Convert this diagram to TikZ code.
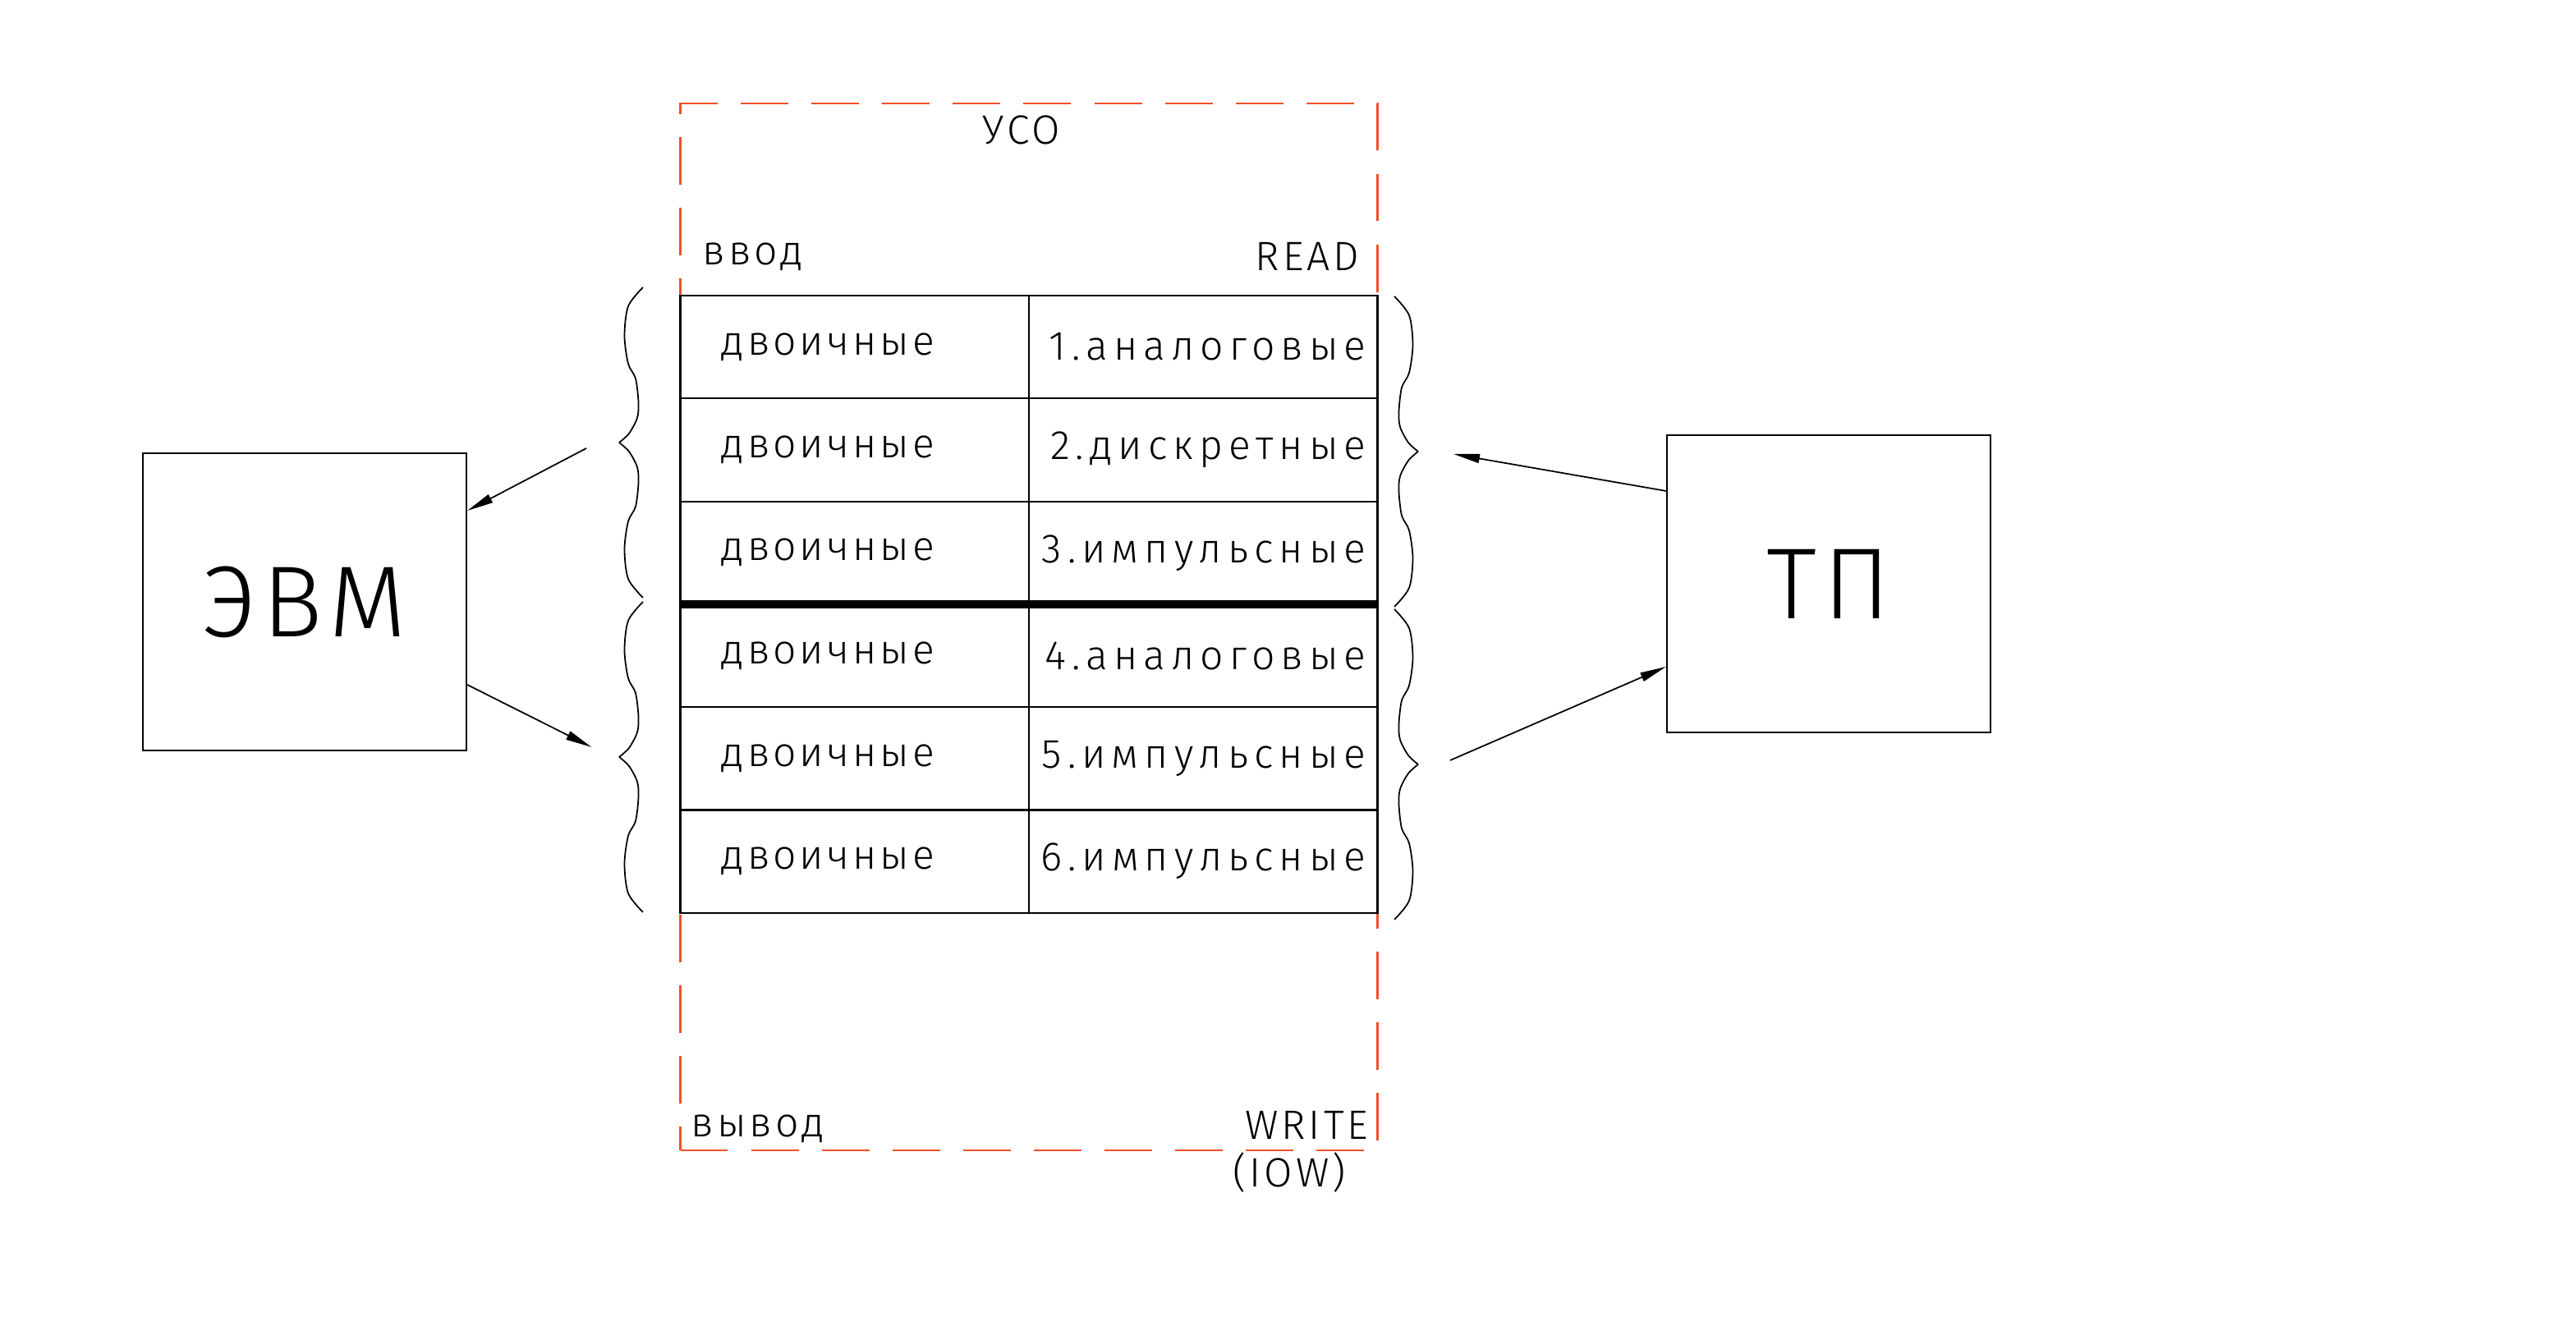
\documentclass[tikz,border=0pt]{standalone}
\usepackage{fontspec}
\setmainfont{Liberation Sans}
\newfontfamily\cadfont[LetterSpace=8]{Fira Sans Light}
\newfontfamily\cadwide[LetterSpace=14]{Fira Sans Light}
\newfontfamily\blockfont[LetterSpace=6]{Fira Sans Light}
\usetikzlibrary{arrows.meta,positioning}
\definecolor{usoframe}{RGB}{240,80,40}

\begin{document}
\begin{tikzpicture}[
  >={Triangle[length=3.2mm,width=1.1mm]},
  unit/.style  = {
    draw, line width=0.6pt,
    minimum width=\unitw, minimum height=\unith,
    font=\blockfont\fontsize{35}{40}\selectfont
  },
  cell/.style  = {
    draw, line width=0.6pt, outer sep=0pt,
    minimum height=\rowh,
    font=\cadfont\fontsize{14.2}{17}\selectfont
  },
  lcell/.style = {cell, text width=3.245cm, inner xsep=0.5cm, align=left},
  rcell/.style = {cell, text width=3.965cm, inner xsep=0.14cm, align=right,
    font=\cadwide\fontsize{14.2}{17}\selectfont},
  usobox/.style = {
    draw=usoframe, line width=0.6pt,
    dash pattern=on 16.5pt off 8pt,
    minimum width=8.49cm, minimum height=12.75cm
  },
  label/.style = {font=\cadfont\fontsize{14.2}{17}\selectfont, inner sep=0pt},
  cadbrace/.pic = {
    \draw[line width=0.5pt] plot[smooth, tension=0.5] coordinates
      {(0,0) (0.12,0.11) (0.22,0.30) (0.235,0.49) (0.20,0.78) (0.11,0.96) (0.065,1.30) (0.11,1.66) (0.29,1.89)};
    \draw[line width=0.5pt, yscale=-1] plot[smooth, tension=0.5] coordinates
      {(0,0) (0.12,0.11) (0.22,0.30) (0.235,0.49) (0.20,0.78) (0.11,0.96) (0.065,1.30) (0.11,1.66) (0.29,1.89)};
  }
]

% ---- constants ----
\def\unitw{3.94cm}   % width of the two outer blocks
\def\unith{3.62cm}   % height of the two outer blocks
\def\rowh{1.253cm}   % one table row

\useasboundingbox (0,0) rectangle (31.37,16.32);

% ---- frame of the interface unit ----
\node[usobox] (uso) at (12.53,8.685) {};
\node[label] (uso title) at (12.44,14.74) {УСО};
\node[label, anchor=base west] (in title)  at (8.55,13.09) {ввод};
\node[label, anchor=base east] (rd title)  at (16.56,13.02) {READ};
\node[label, anchor=base west] (out title) at (8.41,2.47) {вывод};
\node[label, anchor=base east] (wr title)  at (16.67,2.44) {WRITE};
\node[label, anchor=base] (iow title) at (15.70,1.86) {(IOW)};

% ---- table ----
\node[lcell, anchor=north west] (l1) at (8.285,12.72) {двоичные};
\node[lcell, below=0pt of l1] (l2) {двоичные};
\node[lcell, below=0pt of l2] (l3) {двоичные};
\node[lcell, below=0pt of l3] (l4) {двоичные};
\node[lcell, below=0pt of l4] (l5) {двоичные};
\node[lcell, below=0pt of l5] (l6) {двоичные};

\node[rcell, right=0pt of l1] (r1) {1.аналоговые};
\node[rcell, right=0pt of l2] (r2) {2.дискретные};
\node[rcell, right=0pt of l3] (r3) {3.импульсные};
\node[rcell, right=0pt of l4] (r4) {4.аналоговые};
\node[rcell, right=0pt of l5] (r5) {5.импульсные};
\node[rcell, right=0pt of l6] (r6) {6.импульсные};

% input / output groups
\draw[line width=2.8pt] (l4.north west) -- (r4.north east);

% ---- braces ----
\pic (in brace)  at (7.54,10.93) {cadbrace};
\pic (out brace) at (7.54,7.10) {cadbrace};
\pic[xscale=-1] (rd brace) at (17.27,10.82) {cadbrace};
\pic[xscale=-1] (wr brace) at (17.27,7.01) {cadbrace};

% ---- outer blocks ----
\node[unit] (evm) at (3.71,8.99) {ЭВМ};
\node[unit] (tp)  at (22.27,9.21) {ТП};

% ---- arrows ----
\coordinate (evm in)  at (7.14,10.86);
\coordinate (evm out) at (7.205,7.22);
\coordinate (tp out)  at (17.70,10.79);
\coordinate (tp in)   at (17.66,7.06);

\draw[->, line width=0.5pt] (evm in) -- ([yshift=1.11cm]evm.east);
\draw[->, line width=0.5pt] ([yshift=-1.01cm]evm.east) -- (evm out);
\draw[->, line width=0.5pt] ([yshift=1.13cm]tp.west) -- (tp out);
\draw[->, line width=0.5pt] (tp in) -- ([yshift=-1.01cm]tp.west);

\end{tikzpicture}
\end{document}
